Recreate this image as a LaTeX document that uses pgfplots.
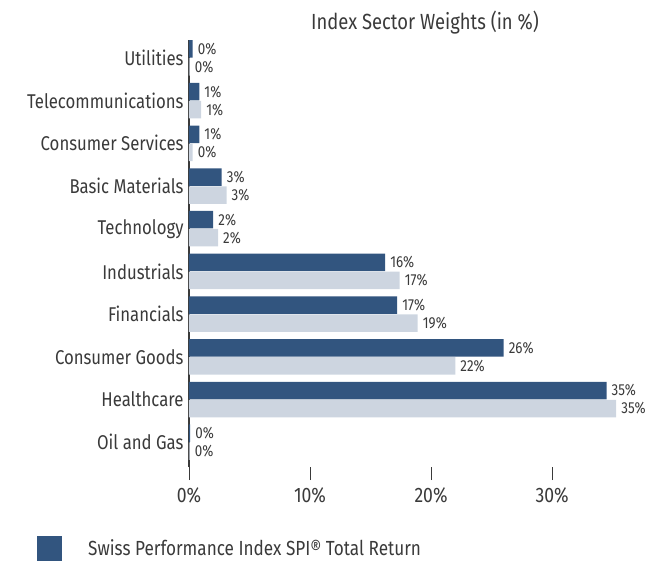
\documentclass[border=0pt]{standalone}
\usepackage{pgfplots}
\pgfplotsset{compat=1.18}
\usepackage{fontspec}
\setmainfont{Fira Sans}[FakeStretch=0.84]
\definecolor{darkb}{HTML}{32557F}
\definecolor{lightb}{HTML}{CDD5E0}
\definecolor{txt}{HTML}{3A3A3A}
\begin{document}
\begin{tikzpicture}
\begin{axis}[
  scale only axis,
  width=472bp, height=427bp,
  xmin=0, xmax=39,
  ymin=-0.58, ymax=9.42,
  xbar,
  bar width=17.5bp,
  axis y line*=left,
  axis x line*=bottom,
  x axis line style={draw=none},
  y axis line style={draw=txt, line width=1.2bp},
  xtick={0,10,20,30},
  xticklabels={0\%,10\%,20\%,30\%},
  xtick align=outside,
  major tick length=13bp,
  xtick style={draw=txt, line width=0.8bp},
  ytick={0,...,9},
  yticklabels={Oil and Gas,Healthcare,Consumer Goods,Financials,Industrials,Technology,Basic Materials,Consumer Services,Telecommunications,Utilities},
  ytick style={draw=none},
  yticklabel style={font=\fontsize{20}{22}\selectfont, text=txt, xshift=11bp},
  xticklabel style={font=\fontsize{21}{23}\selectfont, text=txt, yshift=-4bp},
  /pgf/number format/assume math mode=true,
  title={Index Sector Weights (in \%)},
  title style={font=\fontsize{22}{24}\selectfont, text=txt, yshift=-4bp},
  nodes near coords,
  nodes near coords align=horizontal,
  point meta=explicit symbolic,
  every node near coord/.append style={font=\fontsize{16}{18}\selectfont, text=txt, anchor=west, inner sep=2pt, xshift=3bp},
  legend style={at={(-0.322,-0.160)}, anchor=north west, draw=none, fill=none,
    font=\fontsize{20.5}{22}\selectfont, text=txt, inner sep=0pt,
    /tikz/every odd column/.append style={column sep=24bp}},
  legend cell align=left,
  clip=false,
]
\addplot[fill=darkb, draw=none, bar shift=9bp,
  legend image code/.code={\fill[darkb, draw=none] (0bp,-12.5bp) rectangle (25bp,12.5bp);}]
  table[x=v, y=i, meta=l] {
i v l
0 0.1 0\%
1 34.5 35\%
2 26.0 26\%
3 17.2 17\%
4 16.2 16\%
5 2.0 2\%
6 2.7 3\%
7 0.85 1\%
8 0.85 1\%
9 0.3 0\%
};
\addlegendentry{Swiss Performance Index SPI® Total Return}
\addplot[fill=lightb, draw=none, bar shift=-9bp, forget plot]
  table[x=v, y=i, meta=l] {
i v l
0 0.05 0\%
1 35.3 35\%
2 22.0 22\%
3 18.9 19\%
4 17.4 17\%
5 2.4 2\%
6 3.1 3\%
7 0.3 0\%
8 1.0 1\%
9 0.05 0\%
};
\coordinate (bl) at (rel axis cs:0,0);
\coordinate (tr) at (rel axis cs:1,1);
\end{axis}
\pgfresetboundingbox
\path[use as bounding box] ([xshift=-189bp,yshift=-94.2bp]bl) rectangle ([xshift=1bp,yshift=40bp]tr);
\end{tikzpicture}
\end{document}
